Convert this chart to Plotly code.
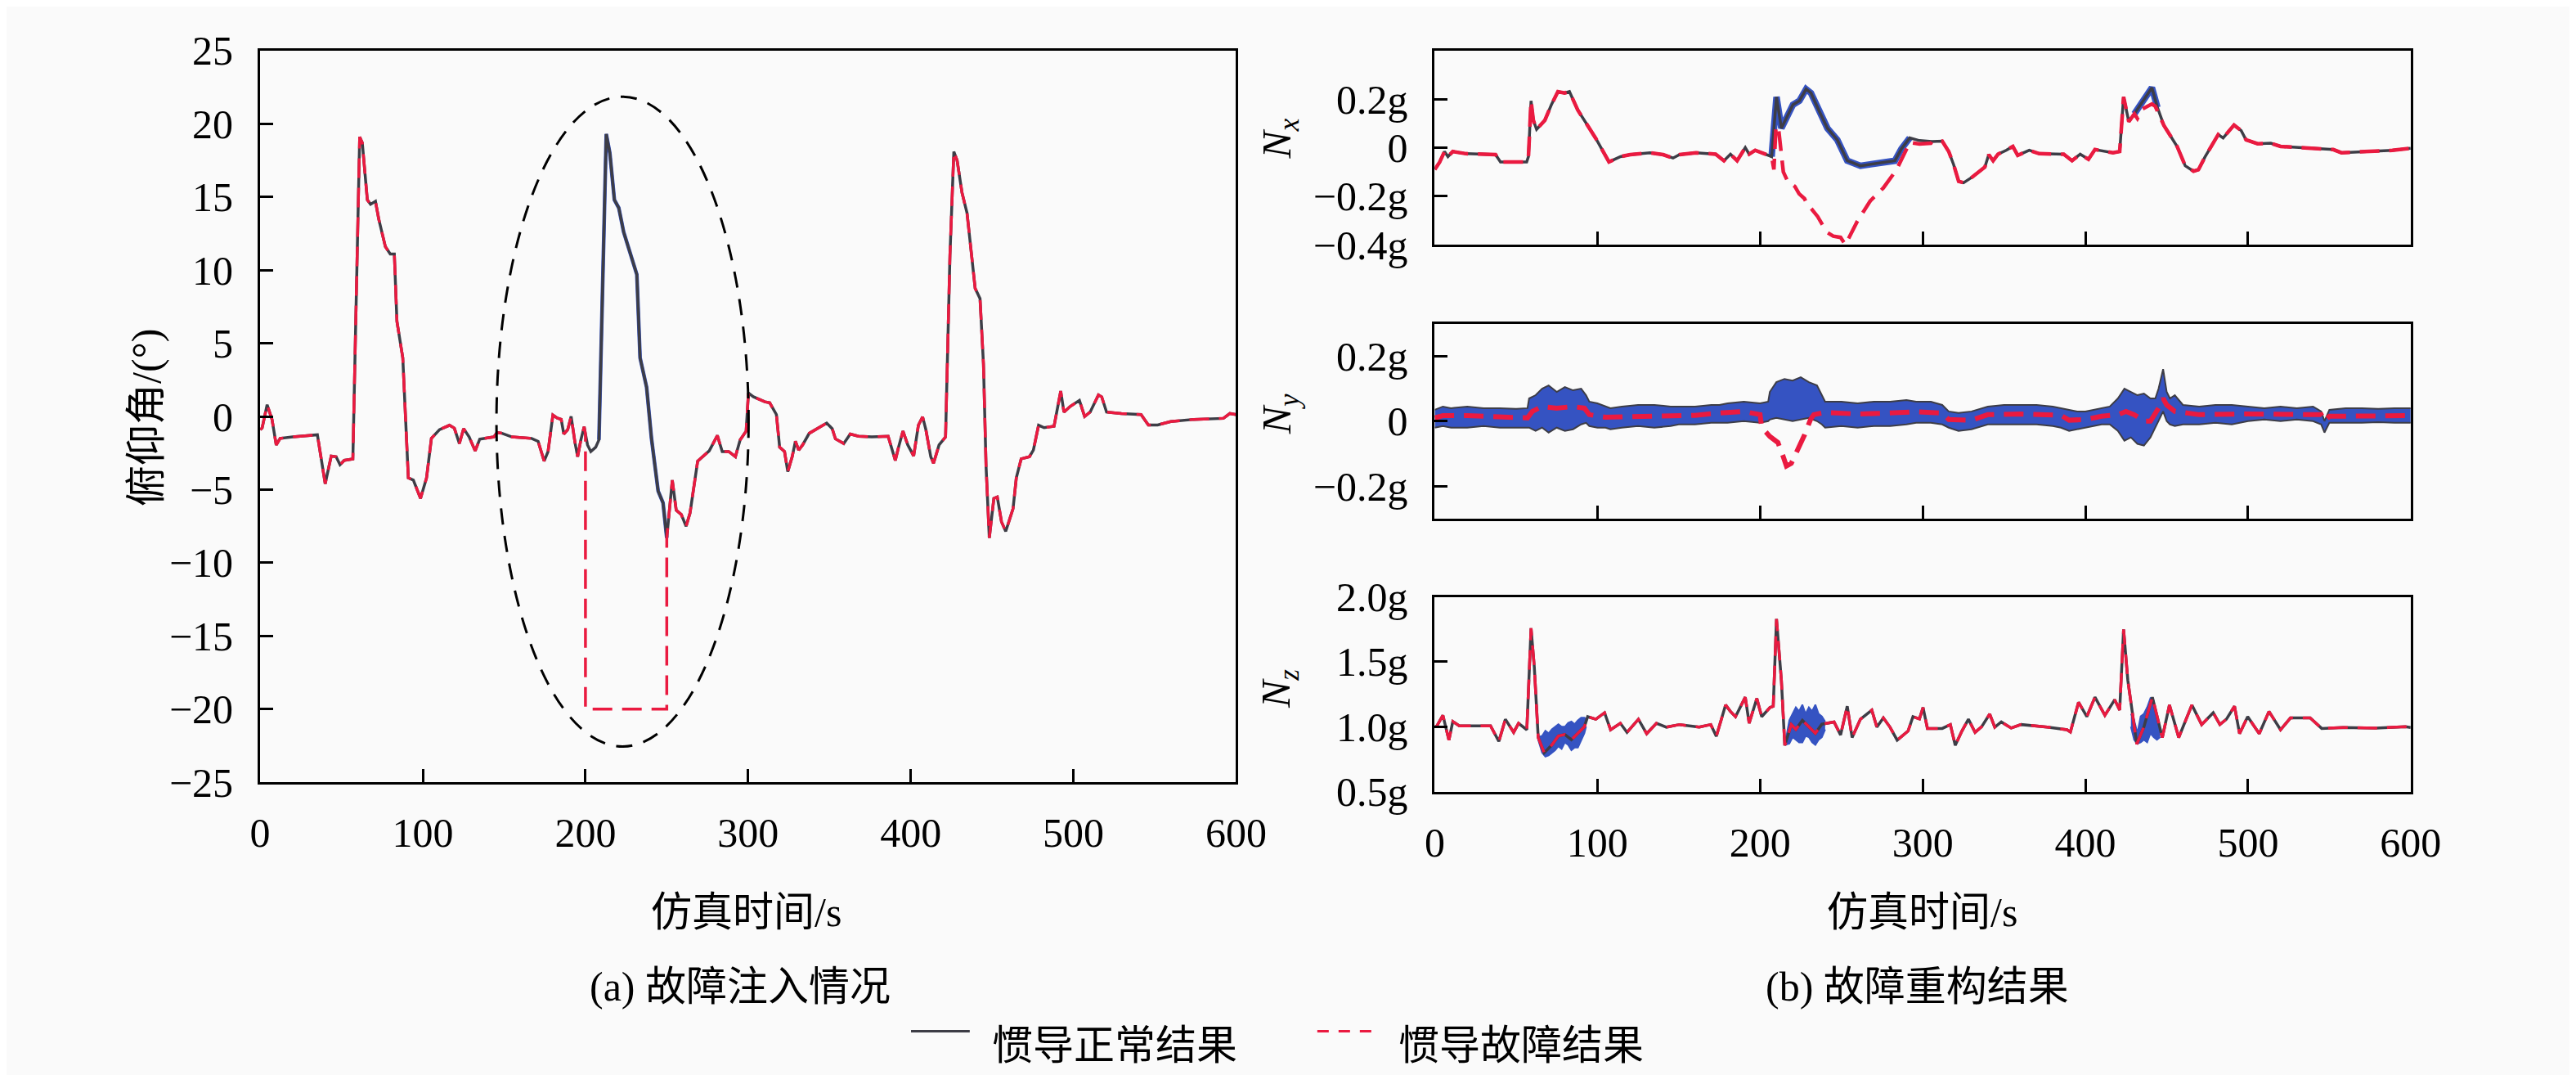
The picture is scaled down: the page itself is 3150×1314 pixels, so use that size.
import plotly.graph_objects as go

W, H = 3150, 1314

# ---------------- data: pitch angle (left panel) ----------------
PITCH_T = [0, 1.2, 4.3, 7.3, 9.9, 12.3, 20, 35.2, 40.0, 43.7, 46.7, 49.1, 51.7, 57.0,
           61.2, 62.8, 65.9, 67.9, 70.9, 72.9, 77.0, 80.0, 82.5, 84.1, 87.7, 91.1, 94.2,
           98.6, 102.3, 105.3, 110.3, 116.4, 119.4, 122.5, 125.1, 128.5, 132.2, 135.0,
           143.7, 145.7, 148.7, 154.8, 166.9, 170.9, 174.6, 177.0, 180.0, 182.6, 185.1,
           186.7, 189.1, 191.2, 193.6, 195.2, 197.2, 199.2, 200.0, 201.3, 203.3, 206.3,
           208.3, 212.8, 215.0, 217.8, 220.5, 223.5, 231.6, 233.6, 237.6, 240.6, 244.7,
           247.7, 250.0, 253.4, 255.8, 258.9, 261.9, 264.3, 269.0, 272.0, 276.1, 281.1,
           284.1, 288.1, 292.2, 295.1, 298.8, 300.2, 303.2, 310.3, 313.3, 317.4, 319.4,
           322.4, 324.4, 327.1, 329.1, 331.1, 333.5, 337.6, 343.6, 348.3, 351.7, 353.7,
           358.8, 362.8, 367.9, 376.0, 386.1, 387.7, 390.5, 392.5, 395.2, 398.2, 401.8,
           404.7, 407.3, 409.3, 412.3, 414.0, 417.4, 421.4, 424.1, 426.5, 428.5, 431.5,
           434.6, 439.6, 442.6, 444.7, 446.3, 448.3, 451.1, 453.2, 455.8, 458.4, 462.9,
           464.9, 467.9, 473.0, 475.4, 478.6, 482.0, 488.1, 490.1, 492.2, 494.2, 498.2,
           503.7, 506.9, 510.3, 515.4, 517.4, 520.4, 529.5, 541.6, 546.1, 551.8, 559.8,
           574.0, 592.2, 596.2, 600]
PITCH_NORMAL = [-0.9, -0.8, 0.8, -0.2, -1.95, -1.5, -1.4, -1.25, -4.6, -2.7, -2.75, -3.3,
                -3.0, -2.9, 19.1, 18.7, 14.8, 14.5, 14.7, 13.5, 11.6, 11.1, 11.1, 6.5, 4.0,
                -4.2, -4.35, -5.6, -4.2, -1.5, -0.9, -0.6, -0.8, -1.85, -0.83, -1.4, -2.35,
                -1.55, -1.4, -1.1, -1.15, -1.4, -1.5, -1.7, -3.05, -2.4, 0.1, -0.1, -0.2,
                -1.2, -0.9, 0.0, -1.8, -2.75, -1.6, -0.7, -1.2, -1.95, -2.4, -2.1, -1.6,
                19.3, 18.0, 14.8, 14.25, 12.6, 9.7, 4.0, 2.0, -1.5, -5.1, -5.9, -8.3, -4.35,
                -6.4, -6.7, -7.5, -6.6, -3.05, -2.75, -2.35, -1.3, -2.4, -2.4, -2.75, -1.6,
                -1.0, 1.6, 1.35, 1.0, 0.93, 0.13, -2.1, -2.4, -3.77, -2.75, -1.7, -2.3,
                -1.95, -1.15, -0.77, -0.45, -0.83, -1.53, -1.85, -1.2, -1.35, -1.4, -1.35,
                -1.95, -3.0, -2.1, -1.0, -1.95, -2.7, -0.6, -0.03, -0.9, -2.75, -3.2, -1.95,
                -1.4, 11.0, 18.1, 17.5, 15.3, 13.9, 8.75, 8.05, 3.6, -3.4, -8.3, -5.6, -5.5,
                -7.2, -7.85, -6.3, -4.2, -2.9, -2.75, -2.3, -0.6, -0.77, -0.67, 0.6, 1.73,
                0.3, 0.7, 1.1, 0.0, 0.3, 1.47, 1.34, 0.3, 0.2, 0.13, -0.58, -0.58, -0.35,
                -0.2, -0.13, 0.2, 0.13]
FAULT_START, FAULT_END, FAULT_LEVEL = 200.0, 250.0, -20.0
PITCH_RECON_WINDOW = (208.3, 250.0)
# dashed ellipse around the fault region: (t_left, t_right, v_bottom, v_top)
ELLIPSE = (145.3, 300.3, -22.55, 21.85)

# ---------------- data: Nx ----------------
NX_T = [0, 3, 6, 8.1, 11.1, 19.2, 37.4, 40.4, 56.5, 57.6, 59.2, 60.6, 62.6, 67.7, 71.7,
        75.7, 79.8, 82.8, 87.9, 91.9, 99.0, 107.1, 114.2, 120.2, 132.3, 140.4, 146.5,
        150.5, 160.6, 172.7, 177.8, 181.8, 185.9, 190.9, 193.3, 197.0, 203.0, 207.1,
        210.1, 213.1, 220.2, 224.2, 228.3, 231.3, 236.4, 241.4, 247.5, 253.6, 261.7,
        271.8, 282.9, 286.9, 292.0, 298.0, 305.7, 312.0, 316.0, 319.0, 322.1, 325.1,
        330.1, 338.2, 340.6, 343.3, 346.3, 351.3, 355.4, 358.4, 365.5, 371.6, 386.7,
        391.8, 396.8, 401.9, 405.9, 417.0, 421.1, 423.5, 426.7, 430.1, 435.2, 440.9,
        444.3, 448.3, 456.4, 461.4, 466.5, 469.5, 473.6, 481.7, 484.7, 491.4, 495.8,
        498.8, 505.9, 514.0, 520.0, 534.2, 552.4, 557.4, 570.5, 588.7, 600]
NX_NORMAL = [-0.09, -0.06, -0.016, -0.037, -0.016, -0.025, -0.029, -0.059, -0.059, -0.037,
             0.193, 0.113, 0.075, 0.113, 0.177, 0.231, 0.225, 0.231, 0.155, 0.113, 0.038,
             -0.059, -0.037, -0.029, -0.021, -0.029, -0.043, -0.029, -0.021, -0.027,
             -0.054, -0.027, -0.054, 0.0, -0.027, -0.011, -0.027, -0.037, 0.209, 0.08,
             0.177, 0.193, 0.241, 0.225, 0.150, 0.080, 0.032, -0.054, -0.075, -0.064,
             -0.054, -0.005, 0.04, 0.029, 0.025, 0.027, -0.016, -0.07, -0.139, -0.145,
             -0.123, -0.08, -0.029, -0.054, -0.027, -0.011, 0.005, -0.032, -0.011, -0.025,
             -0.027, -0.054, -0.027, -0.048, -0.008, -0.021, -0.016, 0.209, 0.107, 0.139,
             0.188, 0.247, 0.166, 0.091, 0.005, -0.075, -0.097, -0.091, -0.038, 0.054,
             0.040, 0.093, 0.070, 0.032, 0.016, 0.018, 0.005, 0.0, -0.008, -0.021, -0.018,
             -0.011, -0.003]
# fault result where it departs from the normal one
NX_FAULT_SEG1_T = [208.5, 209.8, 211.5, 212.8, 214.3, 217.4, 219.5, 221.4, 224.0, 227.3,
                   229.0, 231.3, 235.4, 238.5, 241.4, 245.0, 249.5, 252.5, 259.6, 267.7,
                   275.8, 283.9, 287.9, 292.0, 298.0, 305.0]
NX_FAULT_SEG1 = [-0.09, 0.09, 0.07, -0.02, -0.10, -0.145, -0.15, -0.16, -0.19, -0.21,
                 -0.235, -0.25, -0.284, -0.32, -0.35, -0.365, -0.37, -0.40, -0.306, -0.22,
                 -0.166, -0.091, -0.038, 0.021, 0.015, 0.018]
NX_FAULT_SEG2_T = [432.0, 435.2, 438.0, 440.9, 443.0, 445.5]
NX_FAULT_SEG2 = [0.12, 0.16, 0.17, 0.18, 0.17, 0.13]
NX_RECON_WINDOWS = [(207.1, 292.0), (430.1, 444.3)]

# ---------------- data: Ny ----------------
NY_T = [0, 5, 10, 20, 30, 40, 50, 57, 58, 62, 66, 70, 75, 80, 85, 90, 93, 95, 100, 105,
        108, 115, 125, 135, 145, 150, 160, 170, 175, 180, 190, 200, 205, 206, 210, 215,
        220, 225, 230, 235, 238, 240, 250, 260, 270, 280, 290, 296, 305, 312, 316, 322,
        330, 340, 350, 360, 370, 380, 385, 390, 395, 400, 405, 410, 415, 420, 424, 428,
        432, 436, 440, 443, 445, 447.8, 450, 452, 455, 460, 470, 480, 490, 500, 510, 520,
        530, 540, 545, 547, 550, 560, 570, 580, 590, 600]
NY_UPPER = [0.035, 0.045, 0.04, 0.045, 0.04, 0.04, 0.038, 0.04, 0.07, 0.08, 0.1, 0.11,
            0.09, 0.105, 0.095, 0.1, 0.08, 0.06, 0.055, 0.045, 0.04, 0.045, 0.05, 0.05,
            0.045, 0.045, 0.045, 0.05, 0.05, 0.055, 0.06, 0.055, 0.06, 0.09, 0.12, 0.13,
            0.125, 0.135, 0.12, 0.11, 0.08, 0.06, 0.06, 0.055, 0.06, 0.06, 0.065, 0.06,
            0.06, 0.05, 0.03, 0.025, 0.03, 0.045, 0.05, 0.05, 0.05, 0.045, 0.04, 0.035,
            0.03, 0.03, 0.035, 0.04, 0.045, 0.07, 0.1, 0.09, 0.08, 0.085, 0.07, 0.07, 0.1,
            0.16, 0.09, 0.07, 0.08, 0.05, 0.045, 0.05, 0.05, 0.045, 0.04, 0.045, 0.04,
            0.045, 0.03, 0.0, 0.035, 0.04, 0.04, 0.038, 0.04, 0.04]
NY_LOWER = [-0.02, -0.015, -0.02, -0.02, -0.015, -0.02, -0.02, -0.02, -0.02, -0.03, -0.02,
            -0.035, -0.02, -0.03, -0.025, -0.01, -0.005, -0.015, -0.02, -0.02, -0.025,
            -0.02, -0.015, -0.02, -0.015, -0.01, -0.01, -0.005, -0.005, -0.005, 0.0,
            -0.005, 0.0, 0.005, 0.01, 0.005, 0.0, 0.005, 0.01, 0.0, -0.01, -0.02, -0.015,
            -0.02, -0.015, -0.015, -0.01, -0.005, -0.005, -0.01, -0.02, -0.03, -0.025,
            -0.01, -0.01, -0.01, -0.01, -0.015, -0.02, -0.03, -0.025, -0.02, -0.015,
            -0.01, -0.01, -0.03, -0.06, -0.05, -0.07, -0.075, -0.05, -0.02, 0.0, 0.03,
            0.0, -0.01, -0.015, -0.01, -0.01, -0.005, -0.01, 0.0, 0.005, 0.0, 0.005, 0.0,
            -0.01, -0.035, -0.005, -0.005, -0.005, -0.003, -0.005, -0.005]
NY_FAULT_T = [0, 5, 20, 40, 57, 60, 66, 75, 85, 92, 95, 105, 125, 145, 160, 175, 190, 200,
              201, 206, 211, 214, 216.2, 219.2, 223, 227.3, 231, 233, 240, 260, 280, 296,
              312, 316, 330, 340, 360, 385, 390, 400, 410, 420, 425, 430, 436, 440, 445,
              447.8, 450, 455, 470, 500, 545, 547, 550, 600]
NY_FAULT = [0.01, 0.017, 0.017, 0.012, 0.01, 0.03, 0.045, 0.04, 0.045, 0.04, 0.02, 0.012,
            0.013, 0.014, 0.018, 0.025, 0.03, 0.02, -0.019, -0.047, -0.066, -0.106, -0.138,
            -0.13, -0.09, -0.043, 0.005, 0.02, 0.027, 0.022, 0.025, 0.029, 0.025, 0.005,
            0.003, 0.02, 0.022, 0.018, 0.003, 0.005, 0.015, 0.02, 0.03, 0.02, 0.0, 0.0,
            0.04, 0.07, 0.05, 0.03, 0.02, 0.022, 0.02, 0.0, 0.015, 0.017]

# ---------------- data: Nz ----------------
NZ_T = [0, 1.0, 5.0, 8.7, 11.1, 15.1, 34.3, 39.4, 43.4, 48.5, 51.5, 56.6, 59.2, 61.2,
        63.6, 67.3, 72, 76, 80, 84, 88, 92, 94, 99, 104.4, 108.1, 114.1, 118.2, 125.2,
        130.3, 136.3, 142.4, 150.5, 162.6, 169.7, 173.1, 178.8, 181.8, 184.9, 190.9,
        193.3, 198.0, 201.0, 206.1, 208.1, 210.1, 213.1, 215.2, 219.2, 222, 226, 230,
        234, 238, 245.5, 249.5, 253.6, 256.6, 261.7, 268.7, 271.8, 275.8, 279.9, 284.3,
        291.0, 294.0, 298.0, 300.2, 302.9, 312.0, 317.0, 320.0, 324.1, 328.1, 332.2,
        336.2, 341.2, 344.3, 348.3, 354.4, 360.5, 376.6, 388.7, 390.8, 395.8, 400.9,
        405.9, 412.0, 418.0, 421.1, 423.5, 426.1, 430.1, 431.6, 436, 441.2, 447.3, 451.7,
        457.4, 465.5, 471.5, 478.6, 482.7, 486.7, 491.7, 494.8, 499.8, 506.9, 512.9,
        520.0, 526.1, 538.2, 545.3, 558.4, 578.6, 596.8, 600]
NZ_NORMAL = [1.0, 1.0, 1.088, 0.897, 1.04, 1.007, 1.007, 0.887, 1.058, 0.957, 1.027, 0.977,
             1.759, 1.459, 0.917, 0.80, 0.86, 0.93, 0.94, 0.9, 0.95, 1.0, 1.078, 1.058,
             1.108, 0.977, 1.027, 0.957, 1.058, 0.947, 1.027, 0.997, 1.017, 0.997, 1.017,
             0.927, 1.168, 1.118, 1.078, 1.228, 1.027, 1.218, 1.078, 1.148, 1.158, 1.83,
             1.358, 0.857, 1.017, 0.98, 1.05, 1.0, 0.95, 1.02, 1.037, 0.937, 1.158, 0.917,
             1.058, 1.128, 0.997, 1.068, 0.997, 0.897, 0.967, 1.078, 1.06, 1.148, 0.987,
             0.987, 1.017, 0.857, 0.967, 1.058, 0.957, 1.0, 1.098, 0.997, 1.037, 0.99,
             1.017, 0.997, 0.977, 0.96, 1.188, 1.078, 1.228, 1.088, 1.208, 1.128, 1.749,
             1.358, 0.997, 0.867, 1.0, 1.228, 0.917, 1.168, 0.917, 1.168, 1.017, 1.108,
             1.017, 1.058, 1.158, 0.947, 1.078, 0.947, 1.118, 0.977, 1.068, 1.068, 0.987,
             0.995, 0.99, 1.0, 0.995]
NZ_BAND1_T = [63.6, 66, 68, 70, 72, 74, 76, 78, 80, 82, 84, 86, 88, 90, 92, 93]
NZ_BAND1_UP = [0.92, 0.93, 0.97, 0.95, 0.98, 1.0, 1.02, 1.0, 1.0, 1.03, 1.04, 1.02, 1.05,
               1.07, 1.07, 1.06]
NZ_BAND1_LO = [0.9, 0.8, 0.77, 0.78, 0.8, 0.82, 0.85, 0.83, 0.88, 0.86, 0.82, 0.84, 0.84,
               0.9, 0.95, 1.0]
NZ_BAND2_T = [215.2, 218, 220, 222, 224, 226, 228, 230, 232, 234, 236, 238, 240]
NZ_BAND2_UP = [0.86, 1.05, 1.1, 1.15, 1.12, 1.17, 1.1, 1.15, 1.12, 1.17, 1.1, 1.08, 1.04]
NZ_BAND2_LO = [0.86, 0.87, 0.92, 0.9, 0.88, 0.88, 0.93, 0.92, 0.88, 0.86, 0.9, 0.92, 0.98]
NZ_BAND3_T = [428, 430, 432, 434, 436, 438, 440, 442, 444, 446]
NZ_BAND3_UP = [1.1, 1.05, 0.95, 1.08, 1.1, 1.15, 1.22, 1.2, 1.05, 0.97]
NZ_BAND3_LO = [1.0, 0.9, 0.87, 0.88, 0.9, 0.88, 0.95, 0.92, 0.9, 0.92]

# ---------------- ticks / labels ----------------
X_TICKS = [0, 100, 200, 300, 400, 500, 600]
PITCH_TICKS = [25, 20, 15, 10, 5, 0, -5, -10, -15, -20, -25]
PITCH_LABELS = ["25", "20", "15", "10", "5", "0", "\u22125", "\u221210", "\u221215",
                "\u221220", "\u221225"]
NX_TICKS = [0.2, 0, -0.2, -0.4]
NX_LABELS = ["0.2g", "0", "\u22120.2g", "\u22120.4g"]
NY_TICKS = [0.2, 0, -0.2]
NY_LABELS = ["0.2g", "0", "\u22120.2g"]
NZ_TICKS = [2.0, 1.5, 1.0, 0.5]
NZ_LABELS = ["2.0g", "1.5g", "1.0g", "0.5g"]
LEGEND_NAMES = ["惯导正常结果", "惯导故障结果"]

# ---------------- style ----------------
FONT = "'Liberation Serif', 'Times New Roman', 'Noto Sans CJK SC', serif"
FS = 50
DARK = "#3d3d46"
RED = "#ea1a40"
BLUE = "#3553c2"
BG = "#fafafa"
DASH = "24px,12px"
TEXT_DY = 18  # visual centre correction for annotations


def px_x(p):
    return p / W


def px_y(p):
    return 1 - p / H


LEFT_X = (302, 1515)
RIGHT_X = (1762, 2975)
LEFT_Y = (27, 962)
TOP_Y = (27, 275)
MID_Y = (376, 625)
BOT_Y = (725, 974)

fig = go.Figure()


def window(ts, vs, lo, hi):
    out_t, out_v = [], []
    for t, v in zip(ts, vs):
        if lo <= t <= hi:
            out_t.append(t)
            out_v.append(v)
    return out_t, out_v


# ---- left: pitch angle ----
ft, fv = [], []
for t, v in zip(PITCH_T, PITCH_NORMAL):
    if t < FAULT_START or t > FAULT_END:
        ft.append(t); fv.append(v)
    elif t == FAULT_START:
        ft += [t, t]; fv += [v, FAULT_LEVEL]
    elif t == FAULT_END:
        ft += [t, t]; fv += [FAULT_LEVEL, v]

rt, rv = window(PITCH_T, PITCH_NORMAL, *PITCH_RECON_WINDOW)
fig.add_trace(go.Scatter(x=rt, y=rv, mode="lines", line=dict(color=BLUE, width=4.5),
                         showlegend=False, xaxis="x", yaxis="y", hoverinfo="skip"))
fig.add_trace(go.Scatter(x=PITCH_T, y=PITCH_NORMAL, mode="lines", name=LEGEND_NAMES[0],
                         line=dict(color=DARK, width=3.5), showlegend=False,
                         xaxis="x", yaxis="y"))
fig.add_trace(go.Scatter(x=ft, y=fv, mode="lines", name=LEGEND_NAMES[1],
                         line=dict(color=RED, width=3.5, dash=DASH), showlegend=False,
                         xaxis="x", yaxis="y"))


# ---- Nx ----
def merge_fault(ts, vs, segs):
    pts = []
    for t, v in zip(ts, vs):
        if not any(st[0] <= t <= st[-1] for st, _ in segs):
            pts.append((t, v))
    for st, sv in segs:
        pts += list(zip(st, sv))
    pts.sort()
    return [p[0] for p in pts], [p[1] for p in pts]


nxf_t, nxf_v = merge_fault(NX_T, NX_NORMAL, [(NX_FAULT_SEG1_T, NX_FAULT_SEG1),
                                             (NX_FAULT_SEG2_T, NX_FAULT_SEG2)])
for lo, hi in NX_RECON_WINDOWS:
    bt, bv = window(NX_T, NX_NORMAL, lo, hi)
    fig.add_trace(go.Scatter(x=bt, y=bv, mode="lines", line=dict(color=BLUE, width=8),
                             showlegend=False, xaxis="x2", yaxis="y2", hoverinfo="skip"))
fig.add_trace(go.Scatter(x=NX_T, y=NX_NORMAL, mode="lines", line=dict(color=DARK, width=3.5),
                         showlegend=False, xaxis="x2", yaxis="y2"))
fig.add_trace(go.Scatter(x=nxf_t, y=nxf_v, mode="lines",
                         line=dict(color=RED, width=4.5, dash=DASH),
                         showlegend=False, xaxis="x2", yaxis="y2"))

# ---- Ny ----
fig.add_trace(go.Scatter(x=NY_T, y=NY_LOWER, mode="lines", line=dict(color=DARK, width=2),
                         showlegend=False, xaxis="x3", yaxis="y3", hoverinfo="skip"))
fig.add_trace(go.Scatter(x=NY_T, y=NY_UPPER, mode="lines", line=dict(color=DARK, width=2),
                         fill="tonexty", fillcolor=BLUE,
                         showlegend=False, xaxis="x3", yaxis="y3", hoverinfo="skip"))
fig.add_trace(go.Scatter(x=NY_FAULT_T, y=NY_FAULT, mode="lines",
                         line=dict(color=RED, width=6, dash=DASH),
                         showlegend=False, xaxis="x3", yaxis="y3"))

# ---- Nz ----
for bt, bu, bl in [(NZ_BAND1_T, NZ_BAND1_UP, NZ_BAND1_LO),
                   (NZ_BAND2_T, NZ_BAND2_UP, NZ_BAND2_LO),
                   (NZ_BAND3_T, NZ_BAND3_UP, NZ_BAND3_LO)]:
    fig.add_trace(go.Scatter(x=bt, y=bl, mode="lines", line=dict(color=BLUE, width=2),
                             showlegend=False, xaxis="x4", yaxis="y4", hoverinfo="skip"))
    fig.add_trace(go.Scatter(x=bt, y=bu, mode="lines", line=dict(color=BLUE, width=2),
                             fill="tonexty", fillcolor=BLUE,
                             showlegend=False, xaxis="x4", yaxis="y4", hoverinfo="skip"))
fig.add_trace(go.Scatter(x=NZ_T, y=NZ_NORMAL, mode="lines", line=dict(color=DARK, width=3.5),
                         showlegend=False, xaxis="x4", yaxis="y4"))
fig.add_trace(go.Scatter(x=NZ_T, y=NZ_NORMAL, mode="lines",
                         line=dict(color=RED, width=3.5, dash=DASH),
                         showlegend=False, xaxis="x4", yaxis="y4"))


# ---------------- axes ----------------
def xax(dom, anchor, labels):
    return dict(domain=[px_x(dom[0]), px_x(dom[1])], anchor=anchor, range=[0, 600],
                tickmode="array", tickvals=X_TICKS, showticklabels=labels,
                ticks="inside", ticklen=16, tickwidth=3, tickcolor="black",
                showline=True, linewidth=3, linecolor="black", mirror=True,
                showgrid=False, zeroline=False, ticklabelstandoff=16,
                tickfont=dict(family=FONT, size=FS, color="black"))


def yax(dom, anchor, rng, vals, text):
    return dict(domain=[px_y(dom[1]), px_y(dom[0])], anchor=anchor, range=rng,
                tickmode="array", tickvals=vals, ticktext=text,
                ticks="inside", ticklen=16, tickwidth=3, tickcolor="black",
                showline=True, linewidth=3, linecolor="black", mirror=True,
                showgrid=False, zeroline=False, ticklabelstandoff=20,
                tickfont=dict(family=FONT, size=FS, color="black"))


fig.update_layout(
    width=W, height=H, margin=dict(l=0, r=0, t=0, b=0),
    paper_bgcolor=BG, plot_bgcolor=BG, showlegend=False,
    font=dict(family=FONT, size=FS, color="black"),
    xaxis=xax(LEFT_X, "y", True),
    yaxis=yax(LEFT_Y, "x", [-25, 25], PITCH_TICKS, PITCH_LABELS),
    xaxis2=xax(RIGHT_X, "y2", False),
    yaxis2=yax(TOP_Y, "x2", [-0.4, 0.4], NX_TICKS, NX_LABELS),
    xaxis3=xax(RIGHT_X, "y3", False),
    yaxis3=yax(MID_Y, "x3", [-0.3, 0.3], NY_TICKS, NY_LABELS),
    xaxis4=xax(RIGHT_X, "y4", True),
    yaxis4=yax(BOT_Y, "x4", [0.5, 2.0], NZ_TICKS, NZ_LABELS),
)

# ellipse
fig.add_shape(type="circle", xref="x", yref="y", x0=ELLIPSE[0], x1=ELLIPSE[1],
              y0=ELLIPSE[2], y1=ELLIPSE[3],
              line=dict(color="black", width=3, dash="20px,14px"))


# ---------------- texts ----------------
def ann(text, xp, yp, angle=0, xanchor="center", size=FS, dy=TEXT_DY):
    fig.add_annotation(text=text, x=px_x(xp), y=px_y(yp + dy), xref="paper", yref="paper",
                       showarrow=False, textangle=angle, xanchor=xanchor, yanchor="middle",
                       font=dict(family=FONT, size=size, color="black"))


ann("俯仰角/(°)", 161, 496, angle=-90, dy=0)
ann("<i>N</i><sub><i>x</i></sub>", 1569, 140, angle=-90, dy=0)
ann("<i>N</i><sub><i>y</i></sub>", 1569, 492, angle=-90, dy=0)
ann("<i>N</i><sub><i>z</i></sub>", 1569, 843, angle=-90, dy=0)
ann("仿真时间/s", 906, 1110)
ann("仿真时间/s", 2368, 1110)
ann("(a) 故障注入情况", 899, 1205)
ann("(b) 故障重构结果", 2362, 1205)

# legend (manual)
LEG_Y = 1280
fig.add_shape(type="line", xref="paper", yref="paper", x0=px_x(1111), x1=px_x(1184),
              y0=px_y(LEG_Y), y1=px_y(LEG_Y), line=dict(color=DARK, width=3))
ann(LEGEND_NAMES[0], 1210, LEG_Y, xanchor="left")
fig.add_shape(type="line", xref="paper", yref="paper", x0=px_x(1616), x1=px_x(1692),
              y0=px_y(LEG_Y), y1=px_y(LEG_Y), line=dict(color=RED, width=3, dash="14px,12px"))
ann(LEGEND_NAMES[1], 1715, LEG_Y, xanchor="left")

fig.write_html("out.html")
